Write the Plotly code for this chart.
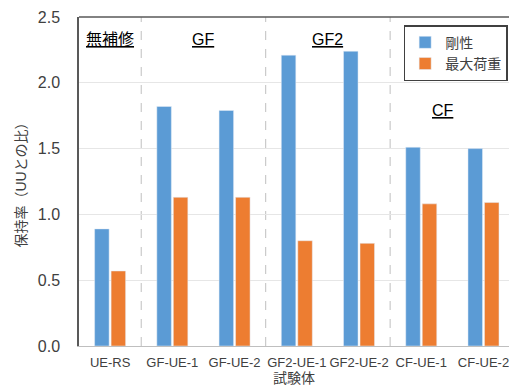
import plotly.graph_objects as go

specimens = ["UE-RS", "GF-UE-1", "GF-UE-2", "GF2-UE-1", "GF2-UE-2", "CF-UE-1", "CF-UE-2"]
stiffness = [0.89, 1.82, 1.79, 2.21, 2.24, 1.51, 1.50]
max_load = [0.57, 1.13, 1.13, 0.80, 0.78, 1.08, 1.09]
group_labels = ["無補修", "GF", "GF2", "CF"]
group_x = [0.0, 1.5, 3.5, 5.35]
group_y = [2.33, 2.33, 2.33, 1.79]
separators = [0.5, 2.5, 4.5]

font_family = "Liberation Sans, Noto Sans CJK JP, sans-serif"

fig = go.Figure()
fig.add_trace(go.Bar(x=specimens, y=stiffness, name="剛性", marker_color="#5B9BD5"))
fig.add_trace(go.Bar(x=specimens, y=max_load, name="最大荷重", marker_color="#ED7D31"))

for s in separators:
    fig.add_shape(type="line", x0=s, x1=s, y0=0, y1=2.5, xref="x", yref="y",
                  line=dict(color="#BFBFBF", width=1, dash="dash"), layer="below")

# top frame line (the right edge of the frame falls outside the page)
fig.add_shape(type="line", x0=0, x1=1, y0=1, y1=1, xref="paper", yref="paper",
              line=dict(color="#595959", width=1.5))

for txt, gx, gy in zip(group_labels, group_x, group_y):
    fig.add_annotation(x=gx, y=gy, xref="x", yref="y", text="<u>%s</u>" % txt,
                       showarrow=False, font=dict(size=16, color="#000000", family=font_family))

fig.update_layout(
    width=509, height=387,
    margin=dict(l=79, r=0, t=17, b=41),
    paper_bgcolor="white", plot_bgcolor="white",
    barmode="group", bargap=0.47, bargroupgap=0.12,
    font=dict(family=font_family, color="#595959", size=13),
    legend=dict(x=0.755, y=0.975, xanchor="left", yanchor="top",
                bordercolor="#404040", borderwidth=1.5,
                font=dict(size=14, color="#404040"), tracegroupgap=2),
    xaxis=dict(range=[-0.5, 6.41], showline=True, linecolor="#BFBFBF", linewidth=1,
               ticks="", ticklabelstandoff=4, tickfont=dict(size=13, color="#404040"),
               title=dict(text="試験体", font=dict(size=14, color="#404040"), standoff=2)),
    yaxis=dict(range=[0, 2.5], dtick=0.5, tickformat=".1f", showgrid=True,
               gridcolor="#E6E6E6", showline=True, linecolor="#595959", linewidth=1.5,
               ticks="", zeroline=False, ticklabelstandoff=14,
               tickfont=dict(size=16, color="#404040"),
               title=dict(text="保持率（UUとの比）", font=dict(size=14, color="#404040"), standoff=8)),
)

fig.write_html("out.html")
